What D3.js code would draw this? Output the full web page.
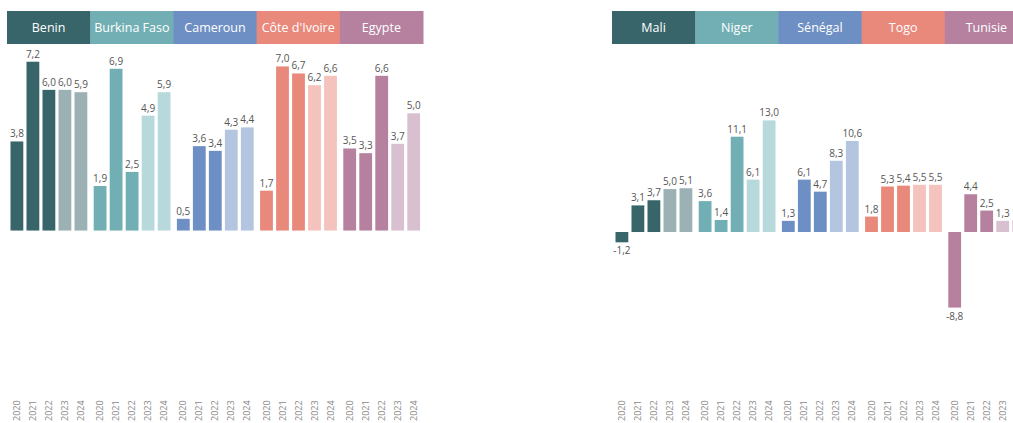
<!DOCTYPE html>
<html>
<head>
<meta charset="utf-8">
<script src="https://cdn.jsdelivr.net/npm/d3@7"></script>
<style>
  body { margin: 0; background: #fff; }
  svg { display: block; font-family: "Open Sans", "Noto Sans", sans-serif; }
  .head text { fill: #fff; font-size: 12.5px; }
  .val { fill: #555; font-size: 10px; }
  .yr { fill: #888; font-size: 9px; }
</style>
</head>
<body>
<svg width="1013" height="423"></svg>
<script>
var years = ["2020", "2021", "2022", "2023", "2024"];
var forecastYears = ["2023", "2024"];

var countriesLeft = ["Benin", "Burkina Faso", "Cameroun", "Côte d'Ivoire", "Egypte"];
var valuesLeft = [
  [3.8, 7.2, 6.0, 6.0, 5.9],
  [1.9, 6.9, 2.5, 4.9, 5.9],
  [0.5, 3.6, 3.4, 4.3, 4.4],
  [1.7, 7.0, 6.7, 6.2, 6.6],
  [3.5, 3.3, 6.6, 3.7, 5.0]
];

var countriesRight = ["Mali", "Niger", "Sénégal", "Togo", "Tunisie"];
var valuesRight = [
  [-1.2, 3.1, 3.7, 5.0, 5.1],
  [3.6, 1.4, 11.1, 6.1, 13.0],
  [1.3, 6.1, 4.7, 8.3, 10.6],
  [1.8, 5.3, 5.4, 5.5, 5.5],
  [-8.8, 4.4, 2.5, 1.3, 1.4]
];

var baseColors = ["#386569", "#72afb4", "#6e8fc3", "#e9897c", "#b5819f"];
var lightColors = ["#9bb1b3", "#b8d9db", "#b4c5e0", "#f4c3bd", "#d9c0d0"];

var svg = d3.select("svg");

var fr = d3.formatLocale({decimal: ",", thousands: " ", grouping: [3], currency: ["", " €"], minus: "-"});
var fmt = fr.format(".1f");

// one panel = colored header row + grouped bars + rotated year labels
function panel(left, countries, values, domain) {
  var panelW = 416,
      top = 50, bottom = 390;

  var g = svg.append("g")
      .attr("transform", "translate(" + left + ",0)");

  var x0 = d3.scaleBand().domain(countries).range([0, panelW]);
  // step of 16px per year, bars start ~3.5px into each country block
  var x1 = d3.scaleBand().domain(years).range([1.9, 81.9])
      .paddingInner(0.2).paddingOuter(0.1);
  var y = d3.scaleLinear().domain(domain).range([bottom, top]);

  var head = g.append("g").attr("class", "head")
    .selectAll("g")
    .data(countries)
    .enter().append("g")
      .attr("transform", function(d) { return "translate(" + x0(d) + ",11)"; });

  head.append("rect")
      .attr("width", x0.bandwidth() + 0.5)
      .attr("height", 33)
      .attr("fill", function(d, i) { return baseColors[i]; });

  head.append("text")
      .attr("x", x0.bandwidth() / 2)
      .attr("y", 17)
      .attr("dy", "0.35em")
      .attr("text-anchor", "middle")
      .text(function(d) { return d; });

  var groups = g.selectAll(".country")
    .data(countries)
    .enter().append("g")
      .attr("class", "country")
      .attr("transform", function(d) { return "translate(" + x0(d) + ",0)"; });

  groups.each(function(c, i) {
    var grp = d3.select(this);
    var rows = years.map(function(yr, j) { return {year: yr, value: values[i][j]}; });

    grp.selectAll("rect")
      .data(rows)
      .enter().append("rect")
        .attr("x", function(d) { return x1(d.year); })
        .attr("width", x1.bandwidth())
        .attr("y", function(d) { return y(Math.max(0, d.value)); })
        .attr("height", function(d) { return Math.abs(y(d.value) - y(0)); })
        .attr("fill", function(d) {
          return forecastYears.indexOf(d.year) >= 0 ? lightColors[i] : baseColors[i];
        });

    grp.selectAll(".val")
      .data(rows)
      .enter().append("text")
        .attr("class", "val")
        .attr("x", function(d) { return x1(d.year) + x1.bandwidth() / 2; })
        .attr("y", function(d) { return d.value >= 0 ? y(d.value) - 4 : y(d.value) + 12; })
        .attr("text-anchor", "middle")
        .text(function(d) { return fmt(d.value); });

    grp.selectAll(".yr")
      .data(rows)
      .enter().append("text")
        .attr("class", "yr")
        .attr("transform", function(d) {
          return "translate(" + (x1(d.year) + x1.bandwidth() / 2) + ",421) rotate(-90)";
        })
        .attr("dy", "0.35em")
        .text(function(d) { return d.year; });
  });
}

panel(7, countriesLeft, valuesLeft, [-6.8, 7.7]);
panel(612, countriesRight, valuesRight, [-18.4, 21.2]);
</script>
</body>
</html>
